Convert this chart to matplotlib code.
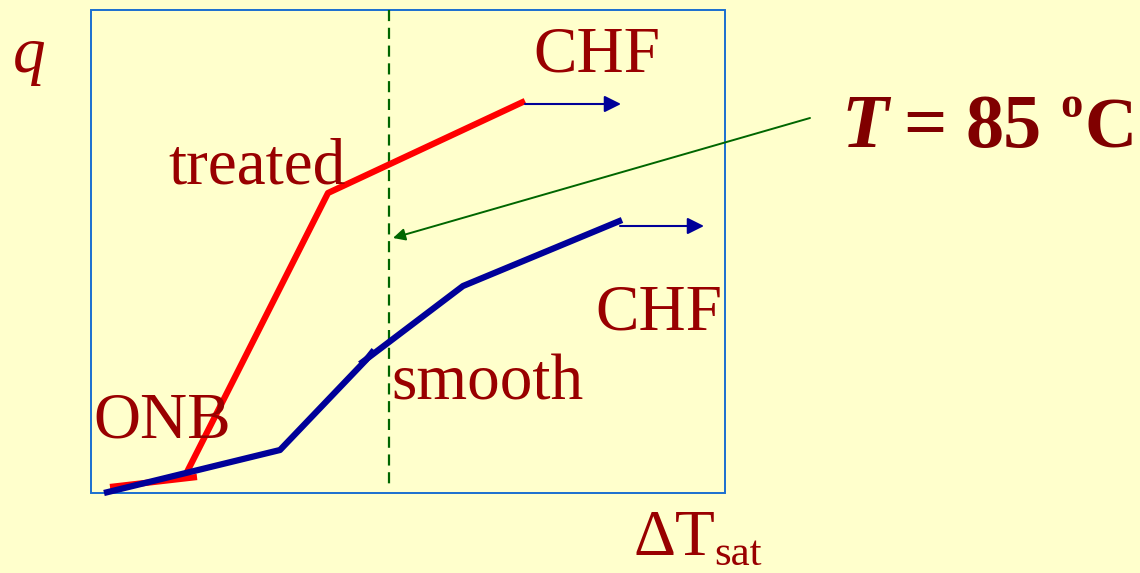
import matplotlib.pyplot as plt
from matplotlib.patches import Rectangle

# slide-style boiling curve sketch, coordinates in picture pixels
box = [91, 10, 725, 493]

treated_x = [187, 328, 525]
treated_y = [472, 193, 101]
onb_x = [110, 197]
onb_y = [487, 477]

smooth_x = [104, 280, 366, 374]
smooth_y = [493, 450, 360, 350]
smooth2_x = [360, 463, 622]
smooth2_y = [364, 286, 220]

dashed_x = [389, 389]
dashed_y = [10, 487]

chf_arrows = [((525, 104), (621, 104)), ((620, 226), (704, 226))]
temp_arrow = ((810, 118), (393, 238))

bg = '#FFFFCC'
darkred = '#990000'
navy = '#000099'
green = '#006600'

plt.rcParams['font.family'] = ['Liberation Serif', 'DejaVu Serif']

fig = plt.figure(figsize=(11.4, 5.73), dpi=100)
fig.patch.set_facecolor(bg)
ax = fig.add_axes([0, 0, 1, 1])
ax.set_facecolor(bg)
ax.set_xlim(0, 1140)
ax.set_ylim(573, 0)
ax.axis('off')

ax.add_patch(Rectangle((box[0], box[1]), box[2] - box[0], box[3] - box[1],
                       fill=False, edgecolor='#1a6fd0', linewidth=1.4))

ax.plot(dashed_x, dashed_y, '--', color=green, linewidth=1.6, dashes=(5, 3))

ax.plot(onb_x, onb_y, color='red', linewidth=4.5, solid_capstyle='butt')
ax.plot(treated_x, treated_y, color='red', linewidth=4.5, solid_capstyle='butt')
ax.plot(smooth_x, smooth_y, color=navy, linewidth=4.5, solid_capstyle='butt')
ax.plot(smooth2_x, smooth2_y, color=navy, linewidth=4.5, solid_capstyle='butt')

for (x0, y0), (x1, y1) in chf_arrows:
    ax.annotate('', xy=(x1, y1), xytext=(x0, y0),
                arrowprops=dict(arrowstyle='-|>', color=navy, lw=1.5,
                                mutation_scale=25, shrinkA=0, shrinkB=0))

(x0, y0), (x1, y1) = temp_arrow
ax.annotate('', xy=(x1, y1), xytext=(x0, y0),
            arrowprops=dict(arrowstyle='-|>', color=green, lw=1.4,
                            mutation_scale=18, shrinkA=0, shrinkB=0))

fs = 47
ax.text(13, 72, 'q', fontsize=fs, style='italic', color=darkred, va='baseline')
ax.text(533, 72, 'CHF', fontsize=fs, color=darkred, va='baseline')
ax.text(168, 183, 'treated', fontsize=fs, color=darkred, va='baseline')
ax.text(595, 330, 'CHF', fontsize=fs, color=darkred, va='baseline')
ax.text(391, 400, 'smooth', fontsize=fs, color=darkred, va='baseline')
ax.text(93, 437, 'ONB', fontsize=fs, color=darkred, va='baseline')
ax.text(634, 555, 'ΔT', fontsize=fs, color=darkred, va='baseline')
ax.text(714, 565, 'sat', fontsize=31, color=darkred, va='baseline')

tc = '#800000'
tfs = 55
ax.text(841, 147, 'T', fontsize=tfs, style='italic', weight='bold', color=tc, va='baseline')
ax.text(903, 147, '=', fontsize=tfs, weight='bold', color=tc, va='baseline')
ax.text(965, 147, '85', fontsize=tfs, weight='bold', color=tc, va='baseline')
ax.text(1060, 117, 'o', fontsize=32, weight='bold', color=tc, va='baseline')
ax.text(1084, 147, 'C', fontsize=52, weight='bold', color=tc, va='baseline')

fig.savefig('out.png', dpi=100, facecolor=bg)
